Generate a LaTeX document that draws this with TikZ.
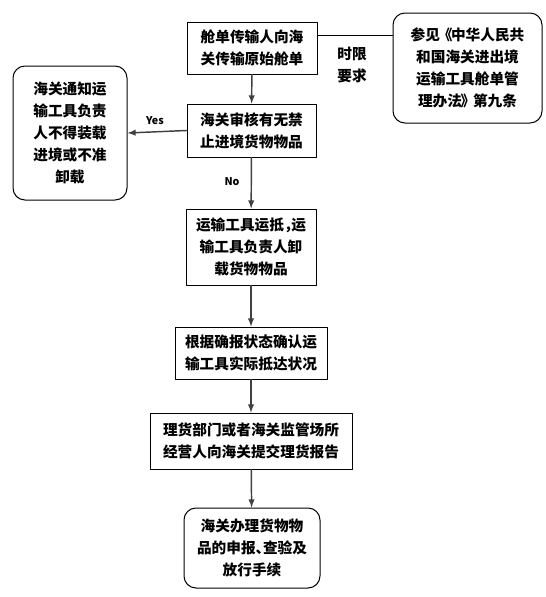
\documentclass[tikz,border=0pt]{standalone}
\usepackage{fontspec}
\setmainfont{Noto Sans CJK SC}
\newcommand{\halfpunct}[1]{\makebox[0.5em][l]{#1}}
\begin{document}
\begin{tikzpicture}[x=0.75pt,y=-0.75pt,line cap=round,line join=round,>=latex,
  box/.style={draw,line width=0.75pt,align=center,inner sep=0pt,
    font=\bfseries\fontsize{11}{16.5}\selectfont},
  rbox/.style={box,rounded corners=9pt},
  flow/.style={->,line width=1.1pt,draw=black!75},
  tag/.style={font=\bfseries\fontsize{8}{10}\selectfont}]
  \useasboundingbox (0,0) rectangle (546,597);
  \node[box,minimum width=97.5pt,minimum height=39pt] (manifest) at (252,48) {舱单传输人向海\\关传输原始舱单};
  \node[rbox,minimum width=111.75pt,minimum height=82.5pt] (rule) at (467.5,68) {参见\kern-0.15em《\kern-0.1em中华人民共\\和国海关进出境\\运输工具舱单管\\理办法\kern-0.1em》\kern-0.15em第九条};
  \node[box,minimum width=96.75pt,minimum height=39.75pt] (check) at (251.5,130.5) {海关审核有无禁\\止进境货物物品};
  \node[rbox,minimum width=85.5pt,minimum height=100.5pt] (stop) at (70,133) {海关通知运\\输工具负责\\人不得装载\\进境或不准\\卸载};
  \node[box,minimum width=97.5pt,minimum height=57pt] (arrive) at (251,247) {运输工具运抵\halfpunct{，}运\\输工具负责人卸\\载货物物品};
  \node[box,minimum width=114pt,minimum height=39pt] (confirm) at (251,353) {根据确报状态确认运\\输工具实际抵达状况};
  \node[box,minimum width=151.5pt,minimum height=42pt] (tally) at (251,441) {理货部门或者海关监管场所\\经营人向海关提交理货报告};
  \node[rbox,minimum width=102pt,minimum height=60pt] (release) at (252,548) {海关办理货物物\\品的申报\halfpunct{、}查验及\\放行手续};
  \node[box,draw=none] (limit) at (352,65) {时限\\要求};
  \node[tag] (yes) at (155,121) {Yes};
  \node[tag] (no) at (232,182) {No};
  \draw[line width=0.75pt] ([yshift=9.75pt]manifest.east) -- ([yshift=9.75pt]manifest.east -| rule.west);
  \draw[flow] (manifest) -- (check);
  \draw[flow] (check.west) -- (stop.east);
  \draw[flow] (check) -- (arrive);
  \draw[flow] (arrive) -- (confirm);
  \draw[flow] (confirm) -- (tally);
  \draw[flow] (tally) -- (release);
\end{tikzpicture}
\end{document}
